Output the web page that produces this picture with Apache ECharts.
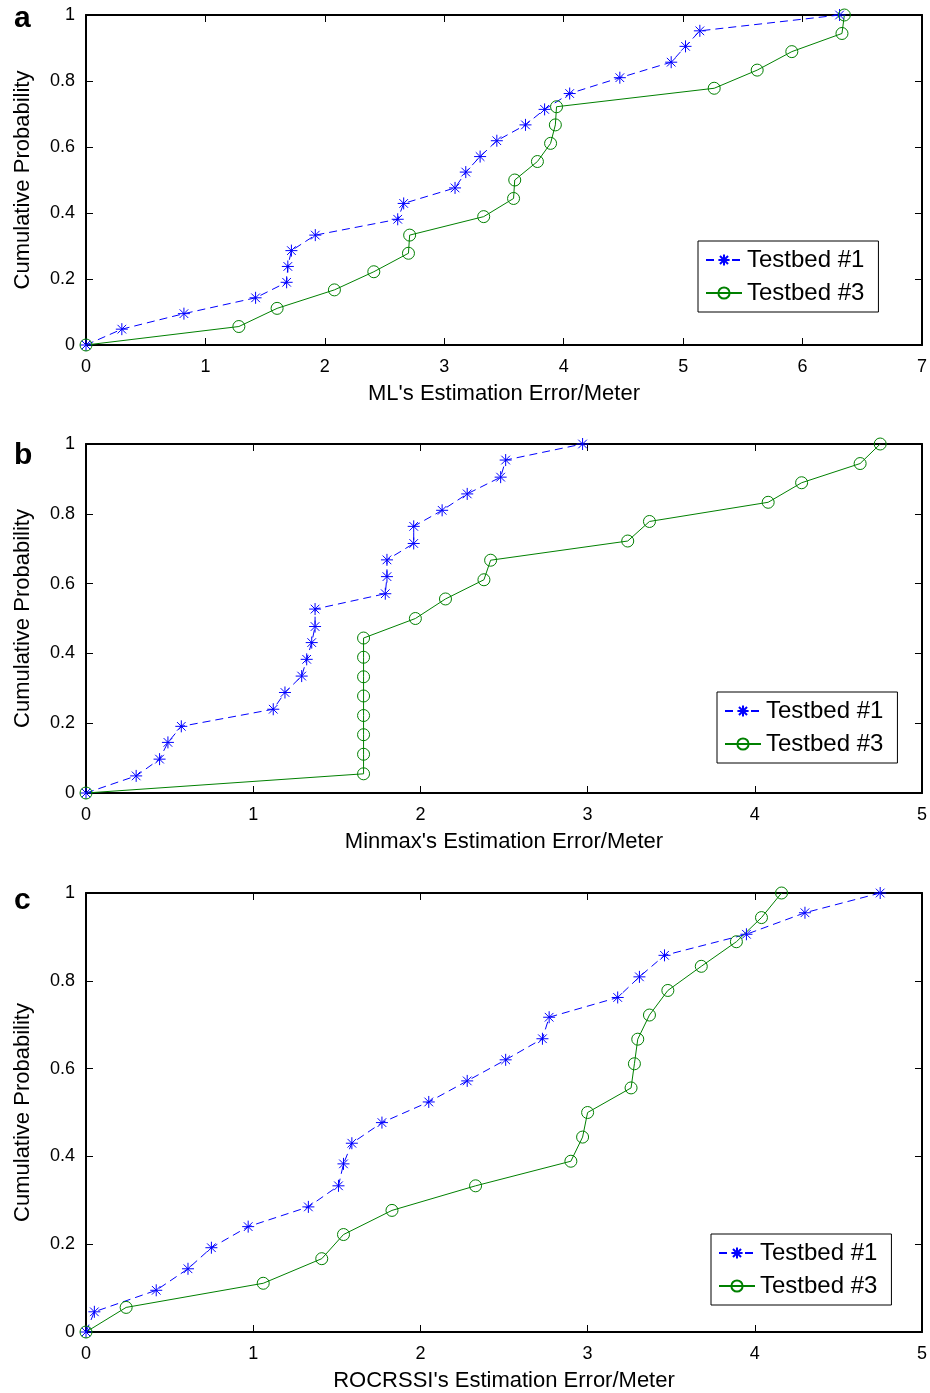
<!DOCTYPE html>
<html>
<head>
<meta charset="utf-8">
<title>CDF of estimation error</title>
<script src="https://cdn.jsdelivr.net/npm/echarts@6/dist/echarts.min.js"></script>
<style>
  html, body { margin: 0; padding: 0; background: #fff; }
  #chart { width: 930px; height: 1393px; }
</style>
</head>
<body>
<div id="chart"></div>
<script>
// ---- data ----
// panel a: ML
const mlT1X = [0, 0.30, 0.82, 1.42, 1.68, 1.69, 1.72, 1.92, 2.61, 2.66, 3.09, 3.18, 3.30, 3.44, 3.68, 3.84, 4.05, 4.47, 4.90, 5.02, 5.14, 6.31]
const mlT1Y = [0, 0.048, 0.095, 0.143, 0.190, 0.238, 0.286, 0.333, 0.381, 0.429, 0.476, 0.524, 0.571, 0.619, 0.667, 0.714, 0.762, 0.810, 0.857, 0.905, 0.952, 1]
const mlT3X = [0, 1.28, 1.60, 2.08, 2.41, 2.70, 2.71, 3.33, 3.58, 3.59, 3.78, 3.89, 3.93, 3.94, 5.26, 5.62, 5.91, 6.33, 6.35]
const mlT3Y = [0, 0.056, 0.111, 0.167, 0.222, 0.278, 0.333, 0.389, 0.444, 0.5, 0.556, 0.611, 0.667, 0.722, 0.778, 0.833, 0.889, 0.944, 1]

// panel b: Minmax
const mmT1X = [0, 0.30, 0.44, 0.49, 0.57, 1.12, 1.19, 1.29, 1.32, 1.35, 1.37, 1.37, 1.79, 1.80, 1.80, 1.96, 1.96, 2.13, 2.28, 2.48, 2.51, 2.97]
const mmT1Y = [0, 0.049, 0.097, 0.145, 0.191, 0.240, 0.288, 0.335, 0.383, 0.431, 0.477, 0.527, 0.571, 0.620, 0.668, 0.715, 0.764, 0.810, 0.857, 0.905, 0.954, 1]
const mmT3X = [0, 1.66, 1.66, 1.66, 1.66, 1.66, 1.66, 1.66, 1.66, 1.97, 2.15, 2.38, 2.42, 3.24, 3.37, 4.08, 4.28, 4.63, 4.75]
const mmT3Y = [0, 0.055, 0.111, 0.167, 0.222, 0.278, 0.333, 0.389, 0.444, 0.5, 0.556, 0.611, 0.667, 0.722, 0.778, 0.833, 0.889, 0.944, 1]

// panel c: ROCRSSI
const rcT1X = [0, 0.05, 0.42, 0.61, 0.75, 0.97, 1.33, 1.51, 1.54, 1.59, 1.77, 2.05, 2.28, 2.51, 2.73, 2.77, 3.18, 3.31, 3.46, 3.95, 4.30, 4.75]
const rcT1Y = [0, 0.046, 0.095, 0.144, 0.192, 0.240, 0.285, 0.333, 0.383, 0.430, 0.477, 0.524, 0.572, 0.620, 0.668, 0.717, 0.762, 0.809, 0.858, 0.906, 0.955, 1]
const rcT3X = [0, 0.24, 1.06, 1.41, 1.54, 1.83, 2.33, 2.90, 2.97, 3.00, 3.26, 3.28, 3.30, 3.37, 3.48, 3.68, 3.89, 4.04, 4.16]
const rcT3Y = [0, 0.056, 0.111, 0.167, 0.222, 0.277, 0.333, 0.389, 0.444, 0.5, 0.556, 0.611, 0.667, 0.722, 0.778, 0.833, 0.889, 0.944, 1]

const panelLetters = ['a', 'b', 'c']
const xNames = ["ML's Estimation Error/Meter", "Minmax's Estimation Error/Meter", "ROCRSSI's Estimation Error/Meter"]
const xMax = [7, 5, 5]
const seriesNames = ['Testbed #1', 'Testbed #3']
// ---------------------------------

const FONT = '"Liberation Sans", Arial, Helvetica, sans-serif'
const BLUE = '#0000ff'
const GREEN = '#008000'
const STAR = 'path://M0,-1L0,1M-1,0L1,0M-0.72,-0.72L0.72,0.72M-0.72,0.72L0.72,-0.72'

// plot boxes (px)
const grids = [
    { left: 86, top: 15, width: 840, height: 330 },
    { left: 86, top: 444, width: 839, height: 349 },
    { left: 86, top: 893, width: 839, height: 440 }
]
const legendPos = [
    { left: 698, top: 241 },
    { left: 717, top: 692 },
    { left: 711, top: 1234 }
]
const letterPos = [[14, 4], [14, 441], [14, 886]]

const pairs = (xs, ys) => xs.map((x, i) => [x, ys[i]])
const panelData = [
    [pairs(mlT1X, mlT1Y), pairs(mlT3X, mlT3Y)],
    [pairs(mmT1X, mmT1Y), pairs(mmT3X, mmT3Y)],
    [pairs(rcT1X, rcT1Y), pairs(rcT3X, rcT3Y)]
]

const axisLine = { show: true, onZero: false, lineStyle: { color: '#000', width: 2 } }
const tickIn = { show: true, inside: true, length: 7, lineStyle: { color: '#000', width: 1 } }

const xAxis = []
const yAxis = []
const series = []
const legend = []

grids.forEach((g, i) => {
    // bottom + top x axis
    xAxis.push({
        gridIndex: i, type: 'value', position: 'bottom',
        min: 0, max: xMax[i], interval: 1,
        axisLine, axisTick: tickIn,
        axisLabel: { color: '#000', fontSize: 18, fontFamily: FONT, margin: 13 },
        splitLine: { show: false },
        name: xNames[i], nameLocation: 'middle', nameGap: 38,
        nameTextStyle: { color: '#000', fontSize: 22, fontFamily: FONT }
    })
    xAxis.push({
        gridIndex: i, type: 'value', position: 'top',
        min: 0, max: xMax[i], interval: 1,
        axisLine, axisTick: tickIn,
        axisLabel: { show: false }, splitLine: { show: false }
    })
    // left + right y axis
    yAxis.push({
        gridIndex: i, type: 'value', position: 'left',
        min: 0, max: 1, interval: 0.2,
        axisLine, axisTick: tickIn,
        axisLabel: { color: '#000', fontSize: 18, fontFamily: FONT, margin: 11 },
        splitLine: { show: false },
        name: 'Cumulative Probability', nameLocation: 'middle', nameGap: 52,
        nameTextStyle: { color: '#000', fontSize: 22, fontFamily: FONT }
    })
    yAxis.push({
        gridIndex: i, type: 'value', position: 'right',
        min: 0, max: 1, interval: 0.2,
        axisLine, axisTick: tickIn,
        axisLabel: { show: false }, splitLine: { show: false }
    })

    series.push({
        name: seriesNames[0], type: 'line',
        xAxisIndex: i * 2, yAxisIndex: i * 2,
        data: panelData[i][0],
        symbol: STAR, symbolSize: 12,
        lineStyle: { color: BLUE, width: 1, type: [8, 5] },
        itemStyle: { color: BLUE, borderColor: BLUE, borderWidth: 1 },
        animation: false, silent: true
    })
    series.push({
        name: seriesNames[1], type: 'line',
        xAxisIndex: i * 2, yAxisIndex: i * 2,
        data: panelData[i][1],
        symbol: 'circle', symbolSize: 12,
        lineStyle: { color: GREEN, width: 1 },
        itemStyle: { color: 'rgba(0,0,0,0)', borderColor: GREEN, borderWidth: 1 },
        animation: false, silent: true
    })

    legend.push({
        data: seriesNames,
        orient: 'vertical',
        left: legendPos[i].left, top: legendPos[i].top,
        padding: [7, 14, 7, 7],
        itemWidth: 36, itemHeight: 14, itemGap: 9,
        borderColor: '#000', borderWidth: 1, backgroundColor: '#fff',
        selectedMode: false,
        textStyle: { color: '#000', fontSize: 24, fontFamily: FONT }
    })
})

const chart = echarts.init(document.getElementById('chart'))
chart.setOption({
    backgroundColor: '#fff',
    animation: false,
    grid: grids,
    xAxis,
    yAxis,
    legend,
    series,
    graphic: panelLetters.map((t, i) => ({
        type: 'text',
        left: letterPos[i][0], top: letterPos[i][1],
        style: { text: t, font: 'bold 30px ' + FONT, fill: '#000' }
    }))
})

window.addEventListener('resize', () => {
    chart.resize()
})
</script>
</body>
</html>
